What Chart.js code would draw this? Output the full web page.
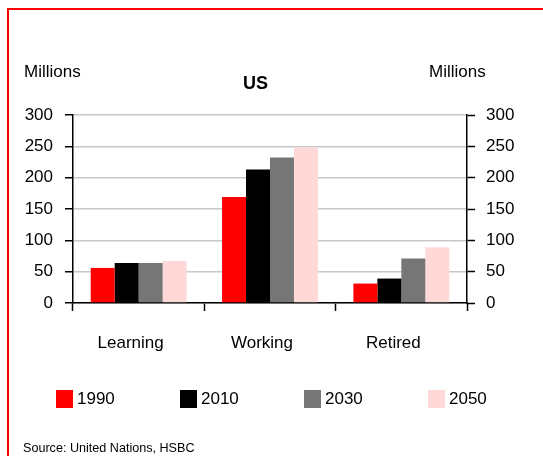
<!DOCTYPE html>
<html>
<head>
<meta charset="utf-8">
<script src="https://cdn.jsdelivr.net/npm/chart.js@4.4.1/dist/chart.umd.min.js"></script>
<style>
  body { margin: 0; background: #fff; font-family: "Liberation Sans", Arial, sans-serif; }
  #wrap { position: relative; width: 543px; height: 456px; overflow: hidden; }
  #frame { position: absolute; left: 7px; top: 8px; width: 600px; height: 500px;
           border-left: 2px solid #ff0000; border-top: 2px solid #ff0000; }
  canvas { position: absolute; left: 0; top: 0; }
  .lbl { position: absolute; color: #000; font-size: 17px; line-height: 20px; white-space: nowrap; }
  #title { font-weight: bold; font-size: 18px; }
  #source { font-size: 12.6px; }
</style>
</head>
<body>
<div id="wrap">
  <div id="frame"></div>
  <canvas id="us-chart" width="543" height="456"></canvas>
  <div class="lbl" style="left:24px; top:62px;">Millions</div>
  <div class="lbl" style="left:429px; top:62px;">Millions</div>
  <div class="lbl" id="title" style="left:243px; top:73px;">US</div>
  <div class="lbl" id="source" style="left:23px; top:438px;">Source: United Nations, HSBC</div>
</div>
<script>
// Data
const categories = ['Learning', 'Working', 'Retired'];
const years = ['1990', '2010', '2030', '2050'];
const values1990 = [56, 169, 31];
const values2010 = [64, 213, 39];
const values2030 = [64, 232, 71];
const values2050 = [67, 248, 89];
const yTicks = [0, 50, 100, 150, 200, 250, 300];

const colors = ['#ff0000', '#000000', '#767676', '#ffd8d8'];
const seriesValues = [values1990, values2010, values2030, values2050];

// Legend drawn along the bottom, evenly spaced
const bottomLegend = {
  id: 'bottomLegend',
  afterDraw(chart, args, opts) {
    const ctx = chart.ctx;
    ctx.save();
    ctx.font = '17px "Liberation Sans", Arial, sans-serif';
    ctx.textBaseline = 'middle';
    ctx.textAlign = 'left';
    chart.data.datasets.forEach((ds, i) => {
      const x = opts.x + i * opts.step;
      ctx.fillStyle = ds.backgroundColor;
      ctx.fillRect(x, opts.y - 9, 17, 18);
      ctx.fillStyle = '#000';
      ctx.fillText(ds.label, x + 21, opts.y);
    });
    ctx.restore();
  }
};

const font = { family: '"Liberation Sans", Arial, sans-serif', size: 17 };

new Chart(document.getElementById('us-chart'), {
  type: 'bar',
  data: {
    labels: categories,
    datasets: years.map((y, i) => ({
      label: y,
      data: seriesValues[i],
      backgroundColor: colors[i],
      borderWidth: 0,
      yAxisID: 'y',
    }))
  },
  options: {
    responsive: false,
    animation: false,
    categoryPercentage: 0.73,
    barPercentage: 1.0,
    layout: { padding: { top: 115, left: 0, right: 0, bottom: 103 } },
    plugins: {
      legend: { display: false },
      title: { display: false },
      tooltip: { enabled: false },
      bottomLegend: { x: 56, y: 399, step: 124 },
    },
    scales: {
      x: {
        offset: true,
        afterFit(scale) { scale.height = 50; },
        grid: {
          offset: true,
          drawOnChartArea: false,
          tickLength: 8,
          tickColor: '#000',
          tickWidth: 1.5,
        },
        border: { color: '#000', width: 1.5 },
        ticks: { color: '#000', font: font, padding: 22, labelOffset: -8 },
      },
      y: {
        position: 'left',
        min: 0,
        max: 300,
        afterFit(scale) { scale.width = 73; },
        afterBuildTicks(scale) { scale.ticks = yTicks.map(v => ({ value: v })); },
        grid: {
          color: '#c8c8c8',
          lineWidth: 1.5,
          tickColor: '#000',
          tickWidth: 1.5,
          tickLength: 8,
        },
        border: { color: '#000', width: 1.5 },
        ticks: { color: '#000', font: font, padding: 12 },
      },
      y2: {
        position: 'right',
        min: 0,
        max: 300,
        afterFit(scale) { scale.width = 76; },
        afterBuildTicks(scale) { scale.ticks = yTicks.map(v => ({ value: v })); },
        grid: {
          drawOnChartArea: false,
          tickColor: '#000',
          tickWidth: 1.5,
          tickLength: 8,
        },
        border: { color: '#000', width: 1.5 },
        ticks: { color: '#000', font: font, padding: 11 },
      }
    }
  },
  plugins: [bottomLegend]
});
</script>
</body>
</html>
